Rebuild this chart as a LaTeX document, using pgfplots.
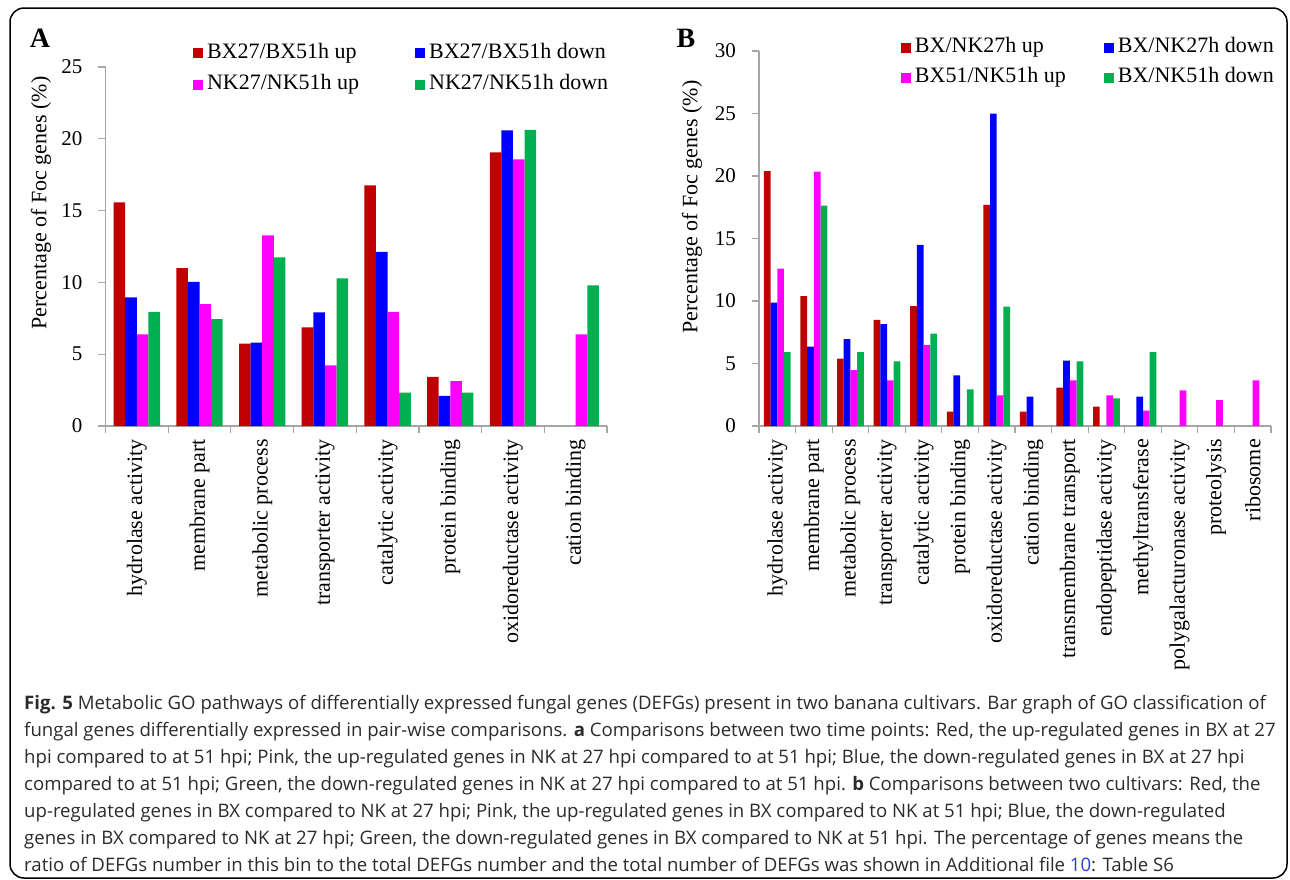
\documentclass[border=0pt]{standalone}
\usepackage{pgfplots}
\pgfplotsset{compat=1.18}
\usepackage{fontspec}
\setmainfont{Liberation Serif}
\newfontfamily\capfont{Open Sans}
\definecolor{cred}{HTML}{C00000}
\definecolor{cblue}{HTML}{0000FF}
\definecolor{cpink}{HTML}{FF00FF}
\definecolor{cgreen}{HTML}{00B050}
\definecolor{axgray}{HTML}{A6A6A6}
\definecolor{captxt}{HTML}{2B2B2B}
\definecolor{linkblue}{HTML}{2A3FE0}
\newcommand{\fs}[1]{\fontsize{#1}{#1}\selectfont}

\pgfplotsset{
  mybars/.style={
    scale only axis, anchor=south west,
    axis lines=left,
    axis line style={-, draw=axgray, line width=1.2pt},
    tick style={draw=axgray, line width=1.2pt},
    tick align=outside, major tick length=7pt,
    ymin=0,
    /pgf/number format/assume math mode=true,
    yticklabel style={font=\fs{21}, inner sep=0pt, xshift=-16pt},
    xticklabels={},
    extra x tick style={major tick length=0pt, tick style={draw=none},
      xticklabel style={font=\fs{22}, yshift=-13pt, rotate=90, anchor=east, inner sep=0pt}},
    ybar=0pt,
    ylabel={Percentage of Foc genes (\%)},
    legend image code/.code={\fill[#1] (0pt,-5pt) rectangle (10pt,5pt);},
    legend cell align=left,
  },
}

\begin{document}
\begin{tikzpicture}[x=1pt,y=1pt]
\path[use as bounding box] (0,0) rectangle (1290,-879);
\draw[line width=1.5pt, rounded corners=14pt] (10,-8) rectangle (1287,-878);

\node[font=\bfseries\fs{28}] at (40,-38) {A};
\node[font=\bfseries\fs{28}] at (686,-38) {B};

% ---------------- Panel A ----------------
\begin{axis}[
  mybars,
  at={(105.5pt,-426pt)}, width=501.5pt, height=359pt,
  xmin=-0.5, xmax=7.5, ymax=25,
  ytick={0,5,...,25},
  xtick={-0.5,0.5,...,7.5},
  extra x ticks={0,1,2,3,4,5,6,7},
  extra x tick labels={hydrolase activity,membrane part,metabolic process,transporter activity,catalytic activity,protein binding,oxidoreductase activity,cation binding},
  bar width=11.6pt,
  every axis y label/.style={at={(axis description cs:-0.1286,0.621)}, rotate=90, anchor=center, font=\fs{22}},
  legend style={draw=none, fill=none, inner sep=0pt, outer sep=0pt,
    at={(axis description cs:0.1745,1.066)}, anchor=north west,
    legend columns=2, font=\fs{22}, row sep=11.5pt,
    nodes={inner sep=0pt, text height=15pt, text depth=5pt, anchor=west},
    /tikz/every odd column/.append style={column sep=4pt},
    /tikz/every even column/.append style={column sep=56pt}},
]
\addplot[fill=cred, draw=none] coordinates {(0,15.57) (1,11.0) (2,5.73) (3,6.87) (4,16.75) (5,3.43) (6,19.05)};
\addplot[fill=cblue, draw=none] coordinates {(0,8.96) (1,10.04) (2,5.8) (3,7.91) (4,12.13) (5,2.09) (6,20.58)};
\addplot[fill=cpink, draw=none] coordinates {(0,6.38) (1,8.49) (2,13.27) (3,4.22) (4,7.95) (5,3.13) (6,18.56) (7,6.38)};
\addplot[fill=cgreen, draw=none] coordinates {(0,7.95) (1,7.45) (2,11.74) (3,10.28) (4,2.32) (5,2.32) (6,20.62) (7,9.79)};
\legend{BX27/BX51h up, BX27/BX51h down, NK27/NK51h up, NK27/NK51h down}
\end{axis}

% ---------------- Panel B ----------------
\begin{axis}[
  mybars,
  at={(759pt,-426pt)}, width=512pt, height=375pt,
  xmin=-0.5, xmax=13.5, ymax=30,
  ytick={0,5,...,30},
  xtick={-0.5,0.5,...,13.5},
  extra x ticks={0,1,2,3,4,5,6,7,8,9,10,11,12,13},
  extra x tick labels={hydrolase activity,membrane part,metabolic process,transporter activity,catalytic activity,protein binding,oxidoreductase activity,cation binding,transmembrane transport,endopeptidase activity,methyltransferase,polygalacturonase activity,proteolysis,ribosome},
  bar width=6.7pt,
  every axis y label/.style={at={(axis description cs:-0.1309,0.584)}, rotate=90, anchor=center, font=\fs{22}},
  legend style={draw=none, fill=none, inner sep=0pt, outer sep=0pt,
    at={(axis description cs:0.2773,1.035)}, anchor=north west,
    legend columns=2, font=\fs{22}, row sep=10pt,
    nodes={inner sep=0pt, text height=15pt, text depth=5pt, anchor=west},
    /tikz/every odd column/.append style={column sep=4pt},
    /tikz/every even column/.append style={column sep=38pt}},
]
\addplot[fill=cred, draw=none] coordinates {(0,20.4) (1,10.4) (2,5.4) (3,8.5) (4,9.6) (5,1.15) (6,17.7) (7,1.15) (8,3.07) (9,1.55)};
\addplot[fill=cblue, draw=none] coordinates {(0,9.87) (1,6.35) (2,6.96) (3,8.16) (4,14.5) (5,4.05) (6,25.0) (7,2.35) (8,5.23) (10,2.35)};
\addplot[fill=cpink, draw=none] coordinates {(0,12.6) (1,20.35) (2,4.48) (3,3.65) (4,6.48) (6,2.45) (8,3.65) (9,2.45) (10,1.23) (11,2.85) (12,2.08) (13,3.65)};
\addplot[fill=cgreen, draw=none] coordinates {(0,5.92) (1,17.63) (2,5.92) (3,5.17) (4,7.39) (5,2.93) (6,9.55) (8,5.17) (9,2.21) (10,5.92)};
\legend{BX/NK27h up, BX/NK27h down, BX51/NK51h up, BX/NK51h down}
\end{axis}

% ---------------- Caption ----------------
\begin{scope}[every node/.style={anchor=base west, inner sep=0pt, font=\capfont\fs{18.6}, text=captxt}]
\node at (24,-709) {\textbf{Fig. 5} Metabolic GO pathways of differentially expressed fungal genes (DEFGs) present in two banana cultivars. Bar graph of GO classification of};
\node at (24,-736) {fungal genes differentially expressed in pair-wise comparisons. \textbf{a} Comparisons between two time points: Red, the up-regulated genes in BX at 27};
\node at (24,-763) {hpi compared to at 51 hpi; Pink, the up-regulated genes in NK at 27 hpi compared to at 51 hpi; Blue, the down-regulated genes in BX at 27 hpi};
\node at (24,-790) {compared to at 51 hpi; Green, the down-regulated genes in NK at 27 hpi compared to at 51 hpi. \textbf{b} Comparisons between two cultivars: Red, the};
\node at (24,-817) {up-regulated genes in BX compared to NK at 27 hpi; Pink, the up-regulated genes in BX compared to NK at 51 hpi; Blue, the down-regulated};
\node at (24,-844) {genes in BX compared to NK at 27 hpi; Green, the down-regulated genes in BX compared to NK at 51 hpi. The percentage of genes means the};
\node at (24,-871) {ratio of DEFGs number in this bin to the total DEFGs number and the total number of DEFGs was shown in Additional file {\color{linkblue}10}: Table S6};
\end{scope}
\end{tikzpicture}
\end{document}
